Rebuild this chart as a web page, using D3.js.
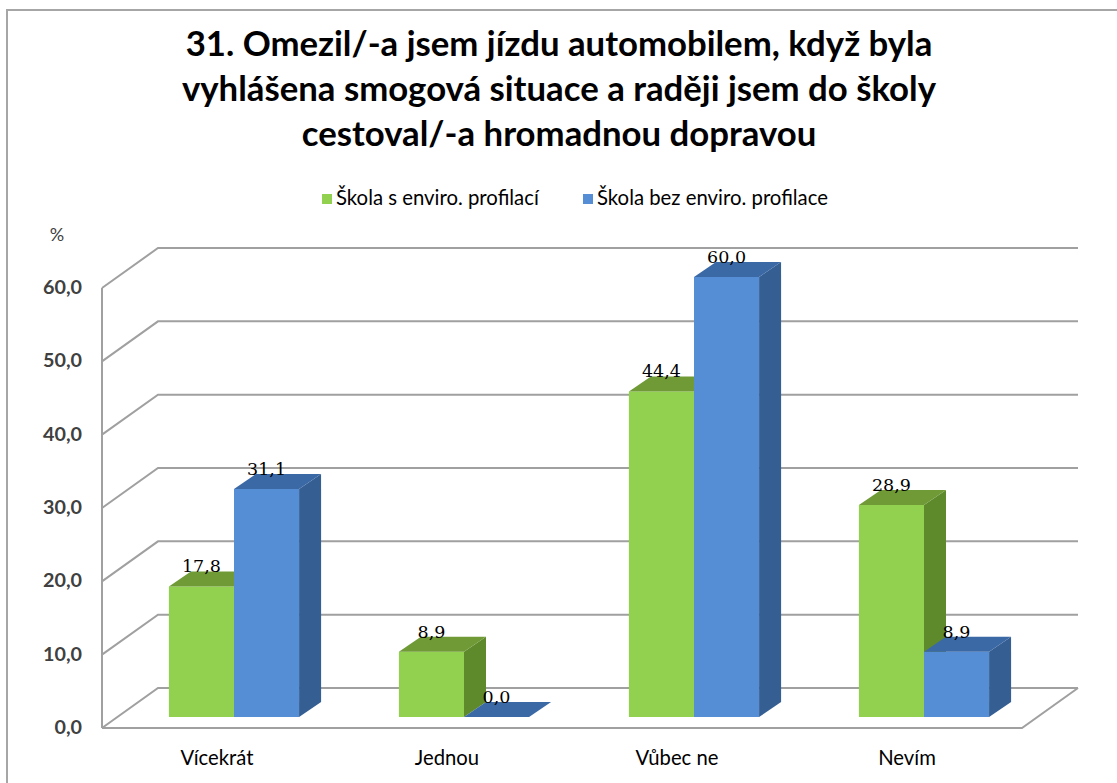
<!DOCTYPE html>
<html><head><meta charset="utf-8">
<script src="https://cdn.jsdelivr.net/npm/d3@7"></script>
<style>body{margin:0;background:#fff}svg{display:block}</style>
</head><body>
<svg id="c" width="1117" height="783"></svg>
<script>
const titleLines = ["31. Omezil/-a jsem jízdu automobilem, když byla","vyhlášena smogová situace a raději jsem do školy","cestoval/-a hromadnou dopravou"];
const categories = ["Vícekrát","Jednou","Vůbec ne","Nevím"];
const seriesNames = ["Škola s enviro. profilací","Škola bez enviro. profilace"];
const greenValues = [17.8, 8.9, 44.4, 28.9];
const blueValues = [31.1, 0.0, 60.0, 8.9];
const tickValues = [0,10,20,30,40,50,60];
const tickLabels = ["0,0","10,0","20,0","30,0","40,0","50,0","60,0"];
const valueLabels = [["17,8","8,9","44,4","28,9"],["31,1","0,0","60,0","8,9"]];

const svg = d3.select("#c");
const font = "Lato, 'Open Sans', sans-serif";
function fit(sel, refNode, target, base){
  const w = refNode.getComputedTextLength();
  sel.attr("font-size", base*target/w);
}
// border
svg.append("rect").attr("x",7).attr("y",10).attr("width",1130).attr("height",800)
  .attr("fill","none").attr("stroke","#a6a6a6").attr("stroke-width",2);

// title
const tg = svg.append("g");
titleLines.forEach((t,i)=>{
  tg.append("text").attr("x",559).attr("y",56+i*45).attr("text-anchor","middle")
    .attr("font-family",font).attr("font-weight","bold").attr("font-size",30).attr("fill","#000").text(t);
});
fit(tg.selectAll("text"), tg.select("text").node(), 747, 30);

// legend
const colors = [{front:"#92d050",top:"#6f9a36",side:"#5f8a2c"},{front:"#558ed5",top:"#3b69a6",side:"#355e92"}];
const legX = [322, 583];
const lg = svg.append("g");
seriesNames.forEach((n,i)=>{
  lg.append("rect").attr("x",legX[i]).attr("y",194).attr("width",10).attr("height",10).attr("fill",colors[i].front);
  lg.append("text").attr("x",legX[i]+14).attr("y",205).attr("font-family",font).attr("font-size",16).attr("fill","#000").text(n);
});
fit(lg.selectAll("text"), lg.select("text").node(), 203, 16);

// scales
const x = d3.scaleBand().domain(categories).range([102,1022]);
const y = d3.scaleLinear().domain([0,60]).range([728,288]);
const DX = 56, DY = -40; // wall depth
const grid = svg.append("g").attr("stroke","#a0a0a0").attr("stroke-width",2).attr("fill","none");
tickValues.forEach(v=>{
  const yy = y(v);
  grid.append("path").attr("d",`M102,${yy}L${102+DX},${yy+DY}L${1022+DX},${yy+DY}`);
});
grid.append("path").attr("d",`M102,${y(0)}L1022,${y(0)}L${1022+DX},${y(0)+DY}`);
grid.append("path").attr("d",`M102,${y(0)}L102,${y(60)}`);

// tick labels
const tk = svg.append("g");
tickValues.forEach((v,i)=>{
  tk.append("text").attr("x",82).attr("y",y(v)+6).attr("text-anchor","end")
    .attr("font-family",font).attr("font-weight","bold").attr("font-size",16).attr("fill","#404040").text(tickLabels[i]);
});
fit(tk.selectAll("text"), tk.select("text:last-child").node(), 39, 16);
svg.append("text").attr("x",57).attr("y",241).attr("text-anchor","middle")
  .attr("font-family",font).attr("font-size",18).attr("fill","#404040").text("%");

// category labels
const cg = svg.append("g");
categories.forEach(c=>{
  cg.append("text").attr("x",x(c)+x.bandwidth()/2).attr("y",765).attr("text-anchor","middle")
    .attr("font-family",font).attr("font-size",16).attr("fill","#000").text(c);
});
fit(cg.selectAll("text"), cg.select("text").node(), 73, 16);

// bars
const SX = 17, SY = -11; // bar front plane shift
const BX = 22, BY = -15; // bar depth
const barW = x.bandwidth()*0.283;
const bars = svg.append("g");
const labels = [];
categories.forEach((c,ci)=>{
  [greenValues, blueValues].forEach((vals,s)=>{
    const v = vals[ci];
    const cx = x(c)+x.bandwidth()/2 + SX;
    const x0 = cx - barW + s*barW, x1 = x0 + barW;
    const yb = y(0)+SY, yt = y(v)+SY;
    const col = colors[s];
    if (yb - yt > 0.5) {
      bars.append("path").attr("d",`M${x0},${yb}L${x1},${yb}L${x1},${yt}L${x0},${yt}Z`).attr("fill",col.front);
      bars.append("path").attr("d",`M${x1},${yb}L${x1+BX},${yb+BY}L${x1+BX},${yt+BY}L${x1},${yt}Z`).attr("fill",col.side);
    }
    bars.append("path").attr("d",`M${x0},${yt}L${x1},${yt}L${x1+BX},${yt+BY}L${x0+BX},${yt+BY}Z`).attr("fill",col.top);
    labels.push({x:(x0+x1)/2, y:yt+BY+1, t:valueLabels[s][ci]});
  });
});
labels.forEach(l=>{
  svg.append("text").attr("x",l.x).attr("y",l.y).attr("text-anchor","middle")
    .attr("font-family","'DejaVu Serif', serif").attr("font-size",17.5).attr("fill","#000").text(l.t);
});
</script>
</body></html>
